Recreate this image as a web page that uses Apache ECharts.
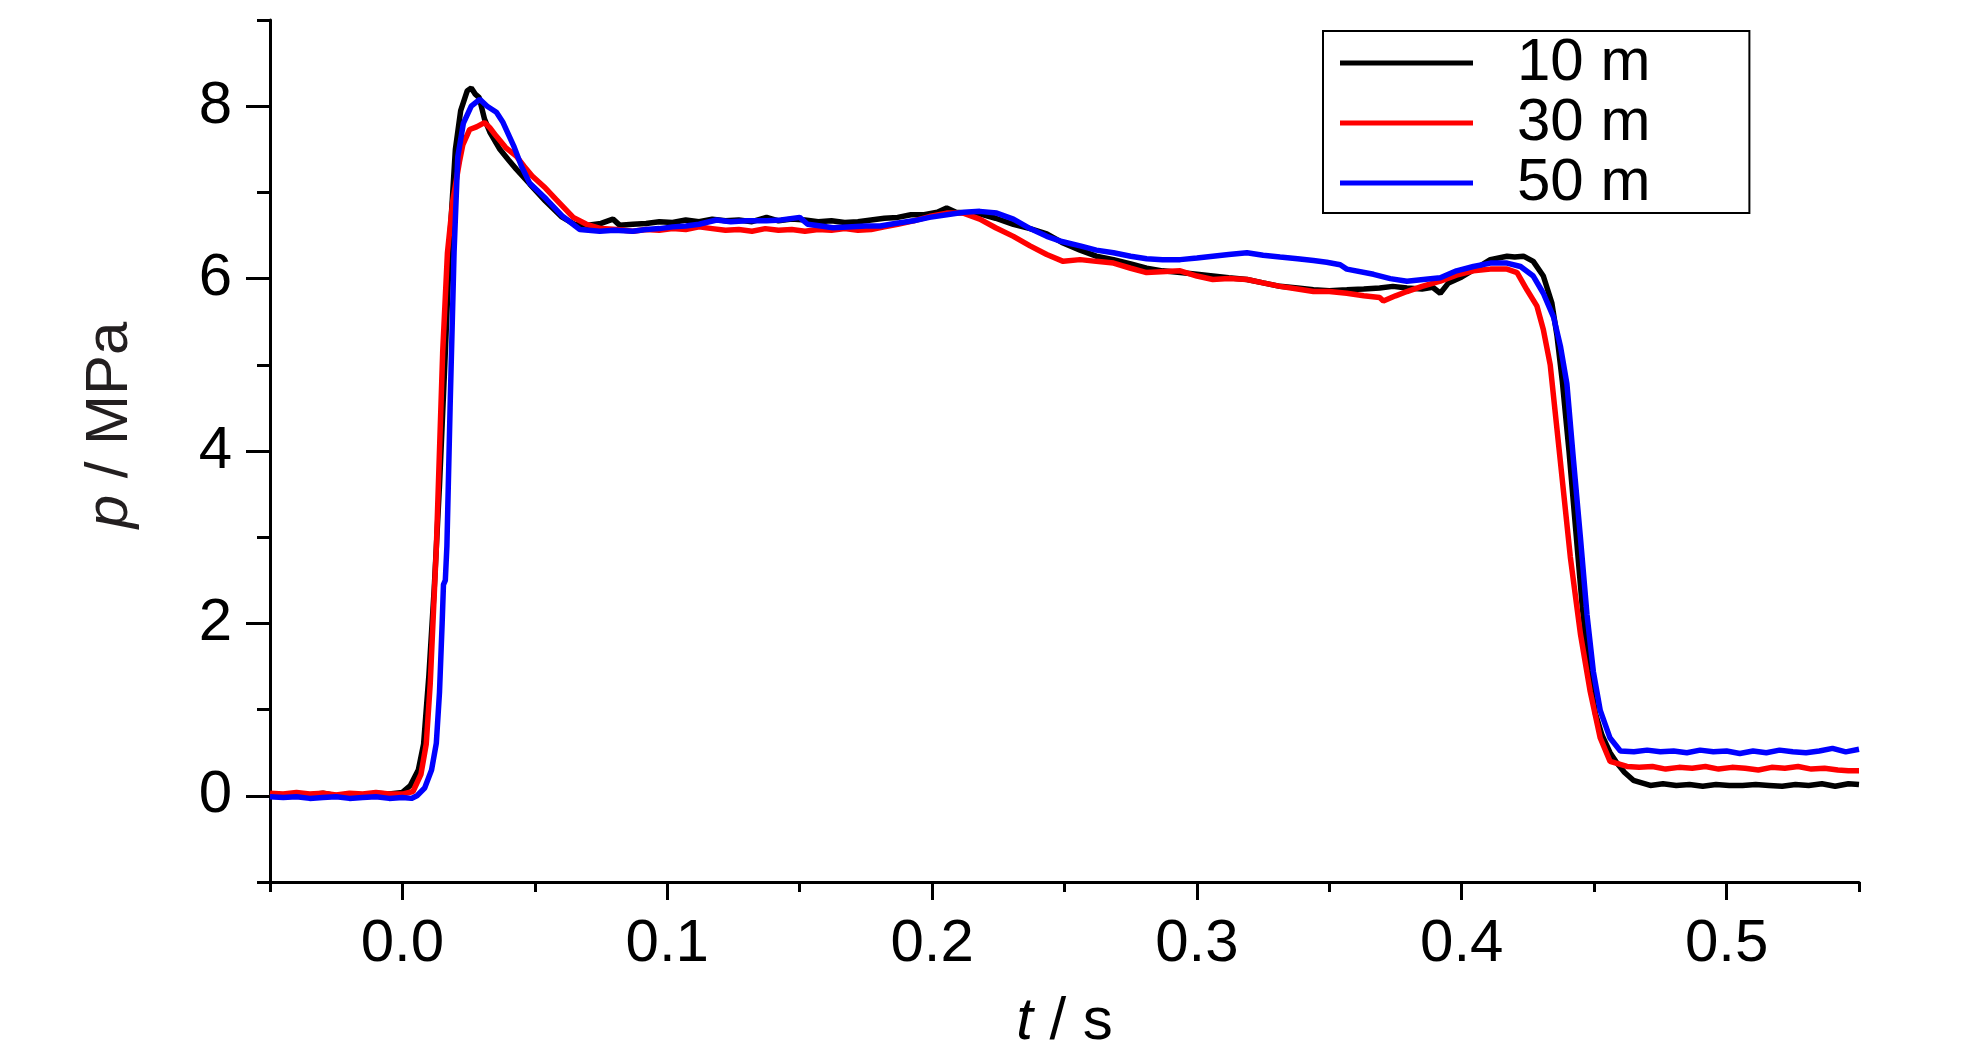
<!DOCTYPE html>
<html>
<head>
<meta charset="utf-8">
<script src="https://cdn.jsdelivr.net/npm/echarts@6/dist/echarts.min.js"></script>
<style>
html,body{margin:0;padding:0;background:#fff;}
#c{width:1984px;height:1063px;}
</style>
</head>
<body>
<div id="c"></div>
<script>
// ---- data (t in s, p in MPa) ----
const seriesNames = ['10 m', '30 m', '50 m'];

const t10 = [-0.050,-0.045,-0.040,-0.035,-0.030,-0.025,-0.020,-0.015,-0.010,-0.005,0.000,0.003,0.006,0.008,0.010,0.012,0.014,0.016,0.018,0.020,0.022,0.0245,0.026,0.0275,0.029,0.031,0.033,0.0368,0.040,0.043,0.048,0.054,0.060,0.065,0.070,0.075,0.0795,0.082,0.087,0.092,0.097,0.102,0.107,0.112,0.117,0.122,0.127,0.132,0.1375,0.142,0.147,0.152,0.157,0.162,0.167,0.172,0.177,0.182,0.187,0.192,0.197,0.202,0.2055,0.209,0.213,0.218,0.224,0.2307,0.237,0.2433,0.249,0.2559,0.262,0.2685,0.275,0.281,0.287,0.2937,0.300,0.306,0.312,0.3189,0.325,0.3314,0.338,0.344,0.350,0.3566,0.363,0.369,0.374,0.3793,0.385,0.389,0.3919,0.395,0.400,0.4044,0.4108,0.4171,0.420,0.4233,0.427,0.4308,0.434,0.436,0.438,0.4405,0.443,0.4455,0.448,0.4505,0.453,0.456,0.4586,0.4615,0.4648,0.4712,0.476,0.481,0.486,0.491,0.496,0.501,0.506,0.511,0.516,0.521,0.526,0.531,0.536,0.541,0.546,0.550];
const p10 = [0.02,0.00,0.02,0.01,0.03,0.00,0.02,0.01,0.03,0.02,0.04,0.12,0.30,0.60,1.40,2.40,3.60,5.00,6.50,7.50,7.95,8.18,8.21,8.14,8.10,7.85,7.70,7.50,7.38,7.27,7.10,6.90,6.72,6.63,6.62,6.64,6.69,6.62,6.63,6.64,6.66,6.65,6.68,6.66,6.69,6.67,6.68,6.66,6.71,6.67,6.69,6.68,6.66,6.67,6.65,6.66,6.68,6.70,6.71,6.74,6.74,6.77,6.82,6.77,6.76,6.75,6.70,6.63,6.58,6.52,6.42,6.33,6.26,6.22,6.17,6.12,6.09,6.07,6.05,6.03,6.01,5.99,5.95,5.91,5.89,5.87,5.86,5.87,5.88,5.89,5.91,5.89,5.88,5.90,5.83,5.95,6.02,6.10,6.22,6.26,6.25,6.26,6.20,6.03,5.72,5.33,4.80,4.00,3.10,2.20,1.45,0.95,0.70,0.50,0.38,0.27,0.18,0.12,0.14,0.12,0.13,0.11,0.13,0.12,0.12,0.13,0.12,0.11,0.13,0.12,0.14,0.11,0.14,0.13];

const t30 = [-0.050,-0.045,-0.040,-0.035,-0.030,-0.025,-0.020,-0.015,-0.010,-0.005,0.000,0.004,0.007,0.009,0.0105,0.0128,0.0152,0.017,0.019,0.0215,0.0228,0.0254,0.028,0.031,0.033,0.0355,0.039,0.043,0.046,0.049,0.054,0.058,0.0645,0.0695,0.075,0.081,0.087,0.092,0.097,0.102,0.107,0.112,0.117,0.122,0.127,0.132,0.137,0.142,0.147,0.152,0.157,0.162,0.167,0.172,0.177,0.182,0.187,0.193,0.199,0.2055,0.2118,0.218,0.224,0.2307,0.237,0.2433,0.2495,0.2559,0.262,0.2685,0.275,0.281,0.2937,0.300,0.306,0.312,0.3189,0.325,0.3314,0.338,0.344,0.350,0.3566,0.363,0.369,0.3704,0.375,0.3793,0.385,0.3919,0.398,0.4044,0.4108,0.4171,0.4209,0.4246,0.4284,0.4308,0.4334,0.4372,0.441,0.4448,0.4485,0.4523,0.456,0.4624,0.467,0.472,0.477,0.482,0.487,0.492,0.497,0.502,0.507,0.512,0.517,0.522,0.527,0.532,0.537,0.542,0.546,0.550];
const p30 = [0.03,0.02,0.04,0.02,0.03,0.01,0.03,0.02,0.04,0.02,0.02,0.05,0.25,0.60,1.30,2.87,5.14,6.30,6.90,7.35,7.55,7.73,7.76,7.81,7.75,7.65,7.52,7.42,7.30,7.19,7.05,6.92,6.71,6.63,6.58,6.57,6.55,6.57,6.56,6.58,6.57,6.60,6.58,6.56,6.57,6.55,6.58,6.56,6.57,6.55,6.57,6.56,6.58,6.56,6.57,6.60,6.63,6.67,6.72,6.76,6.76,6.69,6.59,6.49,6.38,6.28,6.20,6.22,6.20,6.18,6.12,6.07,6.09,6.03,5.99,6.00,5.99,5.95,5.91,5.88,5.85,5.85,5.83,5.80,5.78,5.74,5.80,5.85,5.91,5.97,6.04,6.09,6.11,6.11,6.07,5.87,5.68,5.41,5.00,3.89,2.77,1.88,1.21,0.67,0.40,0.34,0.33,0.34,0.31,0.33,0.32,0.34,0.31,0.33,0.32,0.30,0.33,0.32,0.34,0.31,0.32,0.30,0.29,0.29];

const t50 = [-0.050,-0.045,-0.040,-0.035,-0.030,-0.025,-0.020,-0.015,-0.010,-0.005,0.000,0.0034,0.0055,0.0084,0.011,0.0128,0.014,0.015,0.0155,0.0162,0.0168,0.018,0.0195,0.0209,0.023,0.026,0.0292,0.032,0.0355,0.038,0.042,0.045,0.048,0.0544,0.0606,0.067,0.0745,0.080,0.087,0.092,0.097,0.102,0.107,0.112,0.1186,0.124,0.130,0.1375,0.143,0.150,0.153,0.158,0.1626,0.168,0.175,0.1804,0.186,0.193,0.199,0.2055,0.212,0.218,0.2244,0.2307,0.237,0.2433,0.249,0.2559,0.262,0.2685,0.275,0.281,0.287,0.2937,0.300,0.306,0.312,0.3189,0.325,0.3314,0.338,0.344,0.349,0.3541,0.3566,0.3667,0.373,0.3793,0.3855,0.3919,0.398,0.4044,0.4108,0.4171,0.4222,0.427,0.4308,0.4347,0.4373,0.4397,0.4422,0.4448,0.4473,0.4497,0.4523,0.456,0.4599,0.465,0.470,0.475,0.480,0.485,0.490,0.495,0.500,0.505,0.510,0.515,0.520,0.525,0.530,0.535,0.540,0.545,0.550];
const p50 = [-0.01,-0.02,-0.01,-0.03,-0.02,-0.01,-0.03,-0.02,-0.01,-0.03,-0.02,-0.03,0.00,0.09,0.30,0.61,1.20,2.00,2.45,2.50,2.90,4.50,6.30,7.41,7.80,8.00,8.08,8.00,7.93,7.81,7.54,7.30,7.11,6.92,6.72,6.57,6.55,6.56,6.55,6.57,6.58,6.60,6.61,6.63,6.68,6.66,6.67,6.67,6.68,6.71,6.63,6.61,6.59,6.60,6.61,6.61,6.64,6.67,6.71,6.74,6.77,6.78,6.76,6.69,6.58,6.49,6.43,6.38,6.33,6.30,6.26,6.23,6.22,6.22,6.24,6.26,6.28,6.30,6.27,6.25,6.23,6.21,6.19,6.16,6.11,6.05,6.00,5.97,5.99,6.01,6.09,6.14,6.18,6.18,6.14,6.03,5.83,5.55,5.21,4.78,3.89,3.00,2.10,1.44,0.99,0.67,0.52,0.51,0.53,0.51,0.52,0.50,0.53,0.51,0.52,0.49,0.52,0.50,0.53,0.51,0.50,0.52,0.55,0.51,0.54];

const xMajorTicks = [0.0, 0.1, 0.2, 0.3, 0.4, 0.5];
const xMinorTicks = [-0.05, 0.05, 0.15, 0.25, 0.35, 0.45, 0.55];
const yMajorTicks = [0, 2, 4, 6, 8];
const yMinorTicks = [-1, 1, 3, 5, 7, 9];

const colors = ['#000000', '#ff0000', '#0000ff'];
const FONT = "'Liberation Sans Narrow', 'Arial Narrow', 'Liberation Sans', Arial, sans-serif";
const FS = 60;

function zip(ts, ps) { return ts.map((t, i) => [t, ps[i]]); }

const chart = echarts.init(document.getElementById('c'), null, {renderer: 'canvas'});
const axisLineStyle = {color: '#000', width: 3};

const option = {
  animation: false,
  backgroundColor: '#ffffff',
  grid: {left: 270, right: 125, top: 20, bottom: 181, containLabel: false},
  legend: {
    orient: 'vertical',
    left: 1323, top: 31,
    padding: [2, 99, 0, 17],
    itemGap: 0,
    itemWidth: 133, itemHeight: 5,
    icon: 'rect',
    borderColor: '#000', borderWidth: 2,
    textStyle: {fontFamily: FONT, fontSize: FS, color: '#000', padding: [0, 0, 0, 39]},
    data: seriesNames
  },
  xAxis: [{
    type: 'value', min: -0.05, max: 0.55,
    axisLine: {show: true, lineStyle: axisLineStyle, onZero: false},
    splitLine: {show: false},
    axisTick: {show: true, customValues: xMajorTicks, length: 18, lineStyle: axisLineStyle},
    axisLabel: {customValues: xMajorTicks, formatter: v => v.toFixed(1), fontFamily: FONT, fontSize: FS, color: '#000', margin: 32},
    name: '{i|t} / s',
    nameLocation: 'middle', nameGap: 110,
    nameTextStyle: {fontFamily: FONT, fontSize: FS, color: '#000', rich: {i: {fontFamily: FONT, fontSize: FS, fontStyle: 'italic', color: '#000'}}}
  }, {
    type: 'value', min: -0.05, max: 0.55, position: 'bottom',
    axisLine: {show: false, onZero: false},
    splitLine: {show: false},
    axisTick: {show: true, customValues: xMinorTicks, length: 10, lineStyle: axisLineStyle},
    axisLabel: {show: false}
  }],
  yAxis: [{
    type: 'value', min: -1, max: 9,
    axisLine: {show: true, lineStyle: axisLineStyle, onZero: false},
    splitLine: {show: false},
    axisTick: {show: true, customValues: yMajorTicks, length: 24, lineStyle: axisLineStyle},
    axisLabel: {customValues: yMajorTicks, fontFamily: FONT, fontSize: FS, color: '#000', margin: 38},
    name: '{i|p} / MPa',
    nameLocation: 'middle', nameGap: 130,
    nameTextStyle: {fontFamily: FONT, fontSize: FS, color: '#231f20', padding: [0, 0, 0, 52], rich: {i: {fontFamily: FONT, fontSize: FS, fontStyle: 'italic', color: '#231f20'}}}
  }, {
    type: 'value', min: -1, max: 9, position: 'left',
    axisLine: {show: false, onZero: false},
    splitLine: {show: false},
    axisTick: {show: true, customValues: yMinorTicks, length: 13, lineStyle: axisLineStyle},
    axisLabel: {show: false}
  }],
  series: [
    {name: seriesNames[0], type: 'line', data: zip(t10, p10)},
    {name: seriesNames[1], type: 'line', data: zip(t30, p30)},
    {name: seriesNames[2], type: 'line', data: zip(t50, p50)}
  ].map((s, i) => Object.assign(s, {
    symbol: 'none', showSymbol: false,
    color: colors[i],
    lineStyle: {color: colors[i], width: 5.5},
    itemStyle: {color: colors[i]},
    z: 2 + i
  }))
};
chart.setOption(option);
</script>
</body>
</html>
